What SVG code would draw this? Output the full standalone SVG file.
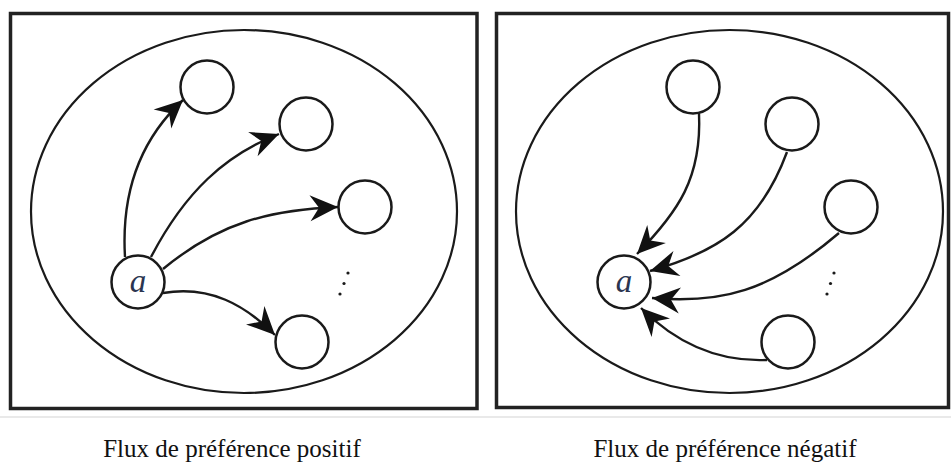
<svg xmlns="http://www.w3.org/2000/svg" width="951" height="464" viewBox="0 0 951 464">
<defs>
<style>
.frame{fill:none;stroke:#222;stroke-width:3.5}
.set{fill:none;stroke:#1a1a1a;stroke-width:2.2}
.node{fill:#fff;stroke:#1a1a1a;stroke-width:2.5}
.edge{fill:none;stroke:#1a1a1a;stroke-width:2.4;marker-end:url(#ah)}
.lbl{font-family:"Liberation Serif","Times New Roman",serif;font-size:33px;font-style:italic;fill:#2b3550;text-anchor:middle}
.cap{font-family:"Liberation Serif","Times New Roman",serif;font-size:25px;fill:#111;text-anchor:middle}
.dot{fill:#1a1a1a}
</style>
<marker id="ah" markerUnits="userSpaceOnUse" markerWidth="34" markerHeight="34" viewBox="-30 -17 34 34" refX="0" refY="0" orient="auto">
<path d="M0,0 L-28,-13 L-19,0 L-28,13 Z" fill="#111"/>
</marker>
</defs>
<rect x="0" y="0" width="951" height="464" fill="#fff"/>
<line x1="0" y1="417" x2="951" y2="417" stroke="#e2e2e2" stroke-width="1.5"/>
<g id="panel-left">
<rect class="frame" x="10.5" y="13.5" width="466.5" height="395"/>
<ellipse class="set" cx="244" cy="211.5" rx="213" ry="181.5"/>
</g>
<g id="panel-right">
<rect class="frame" x="496.5" y="13.5" width="452" height="394"/>
<ellipse class="set" cx="729.5" cy="211.5" rx="213.5" ry="181.5"/>
</g>
<g id="connectors">
<path class="edge" d="M125,257 C121,190 142,138 183,100"/>
<path class="edge" d="M151,257 C185,192 225,155 279,134"/>
<path class="edge" d="M163,269 C220,222 270,210 338,207"/>
<path class="edge" d="M163,293 C210,285 245,305 275,335"/>
<path class="edge" d="M699,113 C702,178 678,212 637,254"/>
<path class="edge" d="M787,152 C760,225 718,252 650,271"/>
<path class="edge" d="M839,233 C770,292 720,304 652,298"/>
<path class="edge" d="M767,360 C720,362 678,345 641,308"/>
</g>
<g id="node-a-left"><circle class="node" cx="138" cy="282" r="26.5"/><text class="lbl" x="138" y="292">a</text></g>
<g id="node-l1"><circle class="node" cx="207" cy="87" r="26.5"/></g>
<g id="node-l2"><circle class="node" cx="306" cy="124" r="26.5"/></g>
<g id="node-l3"><circle class="node" cx="365" cy="207" r="26.5"/></g>
<g id="node-l4"><circle class="node" cx="302" cy="342" r="26.5"/></g>
<g id="dots-left"><circle class="dot" cx="348" cy="273" r="1.6"/><circle class="dot" cx="344" cy="283.5" r="1.6"/><circle class="dot" cx="340" cy="294" r="1.6"/></g>
<g id="node-a-right"><circle class="node" cx="624" cy="282" r="26.5"/><text class="lbl" x="624" y="292">a</text></g>
<g id="node-r1"><circle class="node" cx="693" cy="87" r="26.5"/></g>
<g id="node-r2"><circle class="node" cx="792" cy="124" r="26.5"/></g>
<g id="node-r3"><circle class="node" cx="851" cy="207" r="26.5"/></g>
<g id="node-r4"><circle class="node" cx="788" cy="342" r="26.5"/></g>
<g id="dots-right"><circle class="dot" cx="834" cy="273" r="1.6"/><circle class="dot" cx="830.5" cy="283.5" r="1.6"/><circle class="dot" cx="827" cy="294" r="1.6"/></g>
<text class="cap" x="232" y="457">Flux de préférence positif</text>
<text class="cap" x="725" y="457">Flux de préférence négatif</text>
</svg>
